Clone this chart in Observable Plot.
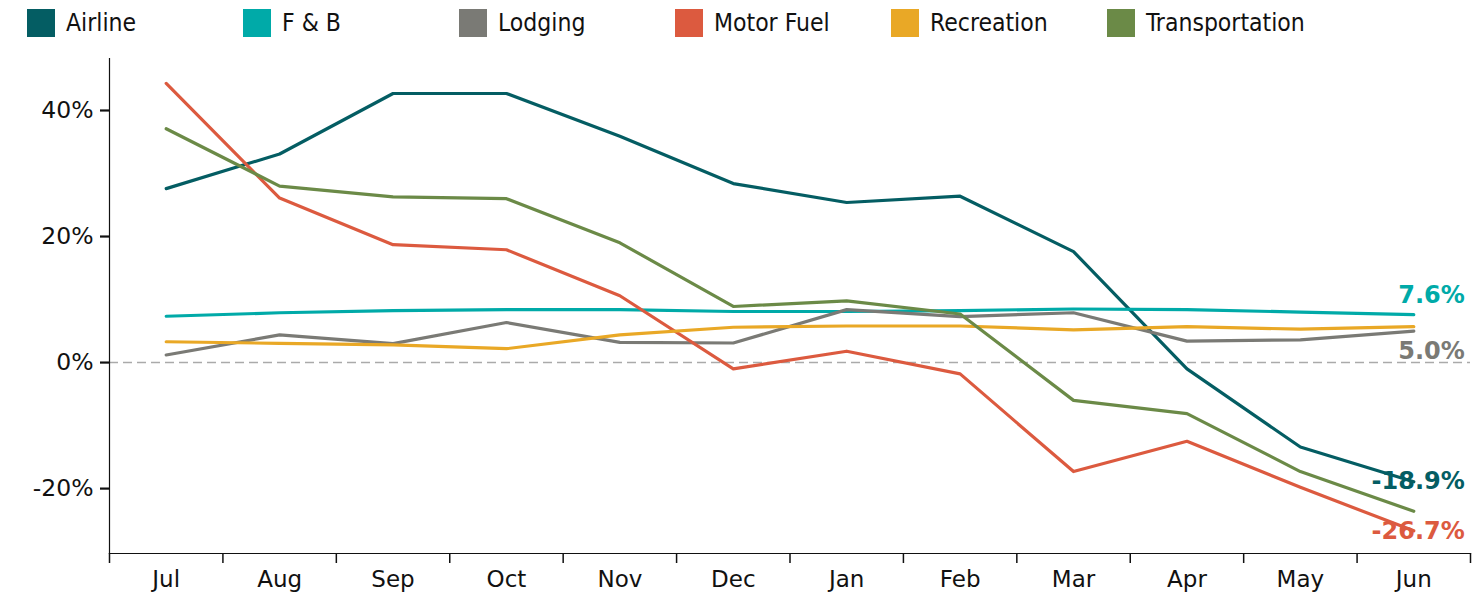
<!DOCTYPE html>
<html>
<head>
<meta charset="utf-8">
<script src="https://cdn.jsdelivr.net/npm/d3@7"></script>
<script src="https://cdn.jsdelivr.net/npm/@observablehq/plot@0.6"></script>
<style>
  html, body { margin: 0; padding: 0; background: #fff; }
  #legend { display: flex; height: 45px; align-items: center; font-family: "DejaVu Sans Condensed", "DejaVu Sans", sans-serif; font-stretch: condensed; font-size: 24.5px; color: #111; }
  .item { width: 216px; display: flex; align-items: center; box-sizing: border-box; padding-left: 27px; }
  .sw { width: 28px; height: 28px; margin-right: 11px; flex: none; }
  svg { display: block; }
</style>
</head>
<body>
<div id="legend"></div>
<div id="chart"></div>
<script>
const months = ["Jul","Aug","Sep","Oct","Nov","Dec","Jan","Feb","Mar","Apr","May","Jun"];
const seriesNames = ["Airline","F & B","Lodging","Motor Fuel","Recreation","Transportation"];
const seriesColors = ["#045d63","#00aaa8","#7a7a75","#dc5a3f","#e9a826","#6b8a47"];

const airline        = [27.6, 33.1, 42.7, 42.7, 35.9, 28.4, 25.4, 26.4, 17.6, -1.0, -13.4, -18.9];
const fnb            = [7.35, 7.9, 8.25, 8.4, 8.4, 8.1, 8.1, 8.25, 8.5, 8.4, 8.0, 7.6];
const lodging        = [1.2, 4.4, 3.0, 6.35, 3.2, 3.1, 8.4, 7.3, 7.9, 3.4, 3.6, 5.0];
const motorFuel      = [44.3, 26.1, 18.7, 17.9, 10.6, -1.0, 1.8, -1.8, -17.3, -12.5, -19.8, -26.7];
const recreation     = [3.3, 3.05, 2.8, 2.2, 4.4, 5.6, 5.8, 5.8, 5.2, 5.7, 5.3, 5.7];
const transportation = [37.1, 28.0, 26.3, 26.0, 19.0, 8.9, 9.8, 7.7, -6.0, -8.1, -17.3, -23.6];

const yTicks = [-20, 0, 20, 40];
const labeledSeries = ["F & B","Lodging","Airline","Motor Fuel"];
const labelDy = {"F & B": -19, "Lodging": 20, "Airline": 0, "Motor Fuel": 0};

const seriesValues = [airline, fnb, lodging, motorFuel, recreation, transportation];
const rows = [];
seriesNames.forEach((name, s) => {
  seriesValues[s].forEach((v, i) => rows.push({series: name, i, month: months[i], value: v}));
});

// legend
const legend = document.getElementById("legend");
seriesNames.forEach((name, s) => {
  const it = document.createElement("div");
  it.className = "item";
  const sw = document.createElement("div");
  sw.className = "sw";
  sw.style.background = seriesColors[s];
  const tx = document.createElement("span");
  tx.textContent = name;
  it.appendChild(sw); it.appendChild(tx);
  legend.appendChild(it);
});

const last = months.length - 1;
const labelMarks = labeledSeries.map(name => Plot.text(
  rows.filter(d => d.series === name && d.i === last),
  {x: "i", y: "value", text: d => d.value.toFixed(1) + "%", fill: "series",
   textAnchor: "end", dx: 51, dy: labelDy[name], fontWeight: "bold", fontSize: 24}
));

const chart = Plot.plot({
  width: 1473,
  height: 559,
  marginTop: 13,
  marginBottom: 51,
  marginLeft: 109,
  marginRight: 3,
  style: {fontFamily: "DejaVu Sans", fontSize: "23px", color: "#111", background: "#fff"},
  x: {type: "linear", domain: [-0.5, months.length - 0.5]},
  y: {domain: [-30.3, 48.25]},
  color: {domain: seriesNames, range: seriesColors},
  marks: [
    Plot.ruleY([0], {stroke: "#aaa", strokeWidth: 1.5, strokeDasharray: "9,5"}),
    Plot.axisY({ticks: yTicks, tickFormat: d => d + "%", tickSize: 9, tickPadding: 7, strokeWidth: 2.2, label: null, fontSize: 23.5}),
    Plot.axisX({ticks: d3.range(months.length), tickFormat: i => months[i], tickSize: 0, tickPadding: 17, label: null, fontSize: 23}),
    Plot.axisX({ticks: d3.range(months.length + 1).map(i => i - 0.5), tickFormat: () => "", tickSize: 10, strokeWidth: 1.5, label: null}),
    Plot.frame({anchor: "left", stroke: "#111", strokeWidth: 1.2}),
    Plot.frame({anchor: "bottom", stroke: "#111", strokeWidth: 1.2}),
    Plot.line(rows, {x: "i", y: "value", z: "series", stroke: "series", strokeWidth: 3.2}),
    ...labelMarks
  ]
});
document.getElementById("chart").appendChild(chart);
</script>
</body>
</html>
